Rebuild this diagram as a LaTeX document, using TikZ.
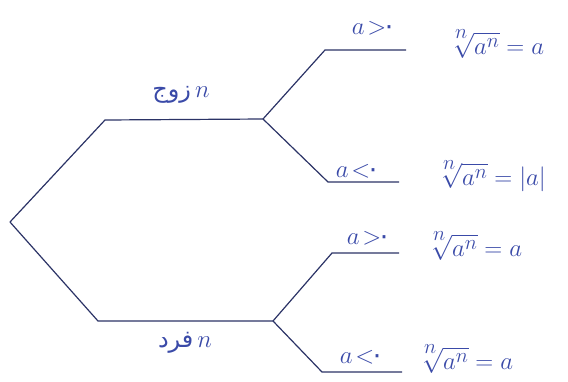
\documentclass[tikz,border=0pt]{standalone}
\usepackage{amsmath}
\usepackage{fontspec}
\newfontfamily\arabicfont[Script=Arabic]{DejaVu Sans}
\TeXXeTstate=1
\definecolor{linecol}{HTML}{2B3366}
\definecolor{inkcol}{HTML}{3A4AA8}
\newcommand{\pz}{{\arabicfont ۰}}
\newcommand{\rootan}{\sqrt[\uproot{3}\scriptstyle n]{a^n}}
\begin{document}
\begin{tikzpicture}[
    x=1pt, y=-1pt,
    branch/.style={draw=linecol, line width=1.2pt},
    every node/.style={text=inkcol, inner sep=0pt, font=\fontsize{26}{30}\selectfont},
    case/.style={font=\fontsize{24}{28}\selectfont},
    result/.style={anchor=west, font=\fontsize{30}{34}\selectfont}
]
  \useasboundingbox (0,0) rectangle (568,381);

  \coordinate (root) at (10,222);
  \coordinate (even) at (105,120);
  \coordinate (evenfork) at (263,119);
  \coordinate (evenpos) at (325,50);
  \coordinate (evenposend) at (406,50);
  \coordinate (evenneg) at (328,182);
  \coordinate (evennegend) at (399,182);
  \coordinate (odd) at (98,321);
  \coordinate (oddfork) at (273,321);
  \coordinate (oddpos) at (332,253);
  \coordinate (oddposend) at (399,253);
  \coordinate (oddneg) at (322,372);
  \coordinate (oddnegend) at (402,372);

  % tree
  \draw[branch] (root) -- (even) -- (evenfork);
  \draw[branch] (root) -- (odd) -- (oddfork);
  \draw[branch] (evenfork) -- (evenpos) -- (evenposend);
  \draw[branch] (evenfork) -- (evenneg) -- (evennegend);
  \draw[branch] (oddfork) -- (oddpos) -- (oddposend);
  \draw[branch] (oddfork) -- (oddneg) -- (oddnegend);

  % parity of n
  \node[case] (evenlabel) at (181,95) {{\arabicfont\beginR زوج\endR}\,$n$};
  \node[case] (oddlabel) at (185,343) {{\arabicfont\beginR فرد\endR}\,$n$};

  % sign of a
  \node (evenposcond) at (374,28) {$a\!>\!$\pz};
  \node (evennegcond) at (358,171) {$a\!<\!$\pz};
  \node (oddposcond) at (369,238) {$a\!>\!$\pz};
  \node (oddnegcond) at (362,357) {$a\!<\!$\pz};

  % results
  \node[result] (evenposres) at (448,44) {$\rootan=a$};
  \node[result] (evennegres) at (436,176) {$\rootan=|a|$};
  \node[result] (oddposres) at (426,246) {$\rootan=a$};
  \node[result] (oddnegres) at (417,359) {$\rootan=a$};
\end{tikzpicture}
\end{document}
